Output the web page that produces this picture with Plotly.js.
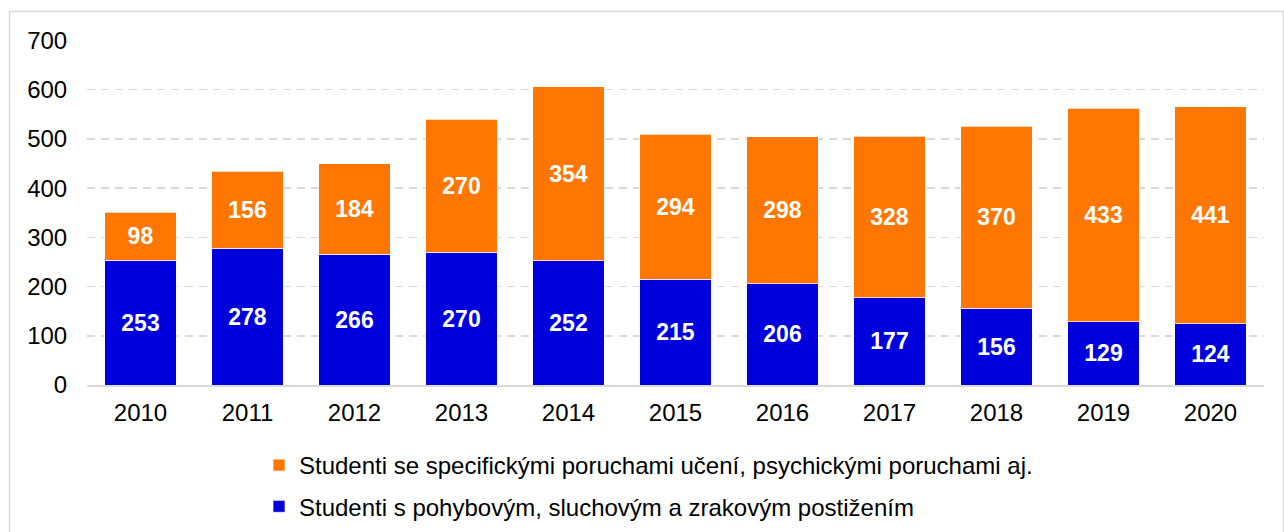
<!DOCTYPE html>
<html><head><meta charset="utf-8">
<script src="https://cdn.plot.ly/plotly-3.0.1.min.js"></script>
<style>html,body{margin:0;padding:0;background:#fff;}#chart{width:1284px;height:532px;}</style>
</head><body><div id="chart"></div>
<script>
const years = ['2010','2011','2012','2013','2014','2015','2016','2017','2018','2019','2020'];
const physical = [253,278,266,270,252,215,206,177,156,129,124];
const learning = [98,156,184,270,354,294,298,328,370,433,441];
const nameLearning = 'Studenti se specifickými poruchami učení, psychickými poruchami aj.';
const namePhysical = 'Studenti s pohybovým, sluchovým a zrakovým postižením';

const font = 'Arial, "Liberation Sans", sans-serif';
const common = {
  type: 'bar', x: years, textposition: 'inside', insidetextanchor: 'middle',
  textangle: 0, constraintext: 'none',
  textfont: {family: font, size: 23, color: '#ffffff', weight: 'bold'},
  hoverinfo: 'x+y+name'
};
const traces = [
  Object.assign({}, common, {name: namePhysical, legendgroup: 'b', legendrank: 2, y: physical, text: physical.map(String),
    marker: {color: '#0000DD', line: {color: 'rgba(255,255,255,0.7)', width: 1}}}),
  Object.assign({}, common, {name: nameLearning, legendgroup: 'a', legendrank: 1, y: learning, text: learning.map(String),
    marker: {color: '#FF7700', line: {color: 'rgba(255,255,255,0.7)', width: 1}}})
];
const W = 1177, H = 345;
const layout = {
  width: 1284, height: 532,
  margin: {l: 87, r: 20, t: 40, b: 147, autoexpand: false},
  barmode: 'stack', bargap: 0.33,
  paper_bgcolor: '#ffffff', plot_bgcolor: '#ffffff',
  font: {family: font, size: 24, color: '#000000'},
  xaxis: {type: 'category', showgrid: false, showline: true, linecolor: '#d9d9d9', linewidth: 1.5,
    ticks: 'outside', ticklen: 6, tickcolor: 'rgba(0,0,0,0)', tickfont: {size: 24}, automargin: false},
  yaxis: {range: [0, 701], tickvals: [0,100,200,300,400,500,600,700], showgrid: true, gridcolor: '#d9d9d9', griddash: '8px,6px', gridwidth: 1.5,
    zeroline: false, showline: false, ticks: 'outside', ticklen: 14, tickcolor: 'rgba(0,0,0,0)', tickfont: {size: 24}, automargin: false},
  showlegend: true,
  legend: {orientation: 'v', traceorder: 'grouped', x: (259-87)/W, xanchor: 'left',
    y: (385-443)/H, yanchor: 'top', font: {size: 24}, itemwidth: 30, tracegroupgap: 7},
  shapes: [{type: 'rect', xref: 'paper', yref: 'paper',
    x0: (9.5-87)/W, x1: (1283.5-87)/W, y0: (385-560)/H, y1: (385-11.5)/H,
    line: {color: '#d9d9d9', width: 1.5}, fillcolor: 'rgba(0,0,0,0)', layer: 'below'}]
};
Plotly.newPlot('chart', traces, layout, {displayModeBar: false, staticPlot: true});
</script></body></html>
